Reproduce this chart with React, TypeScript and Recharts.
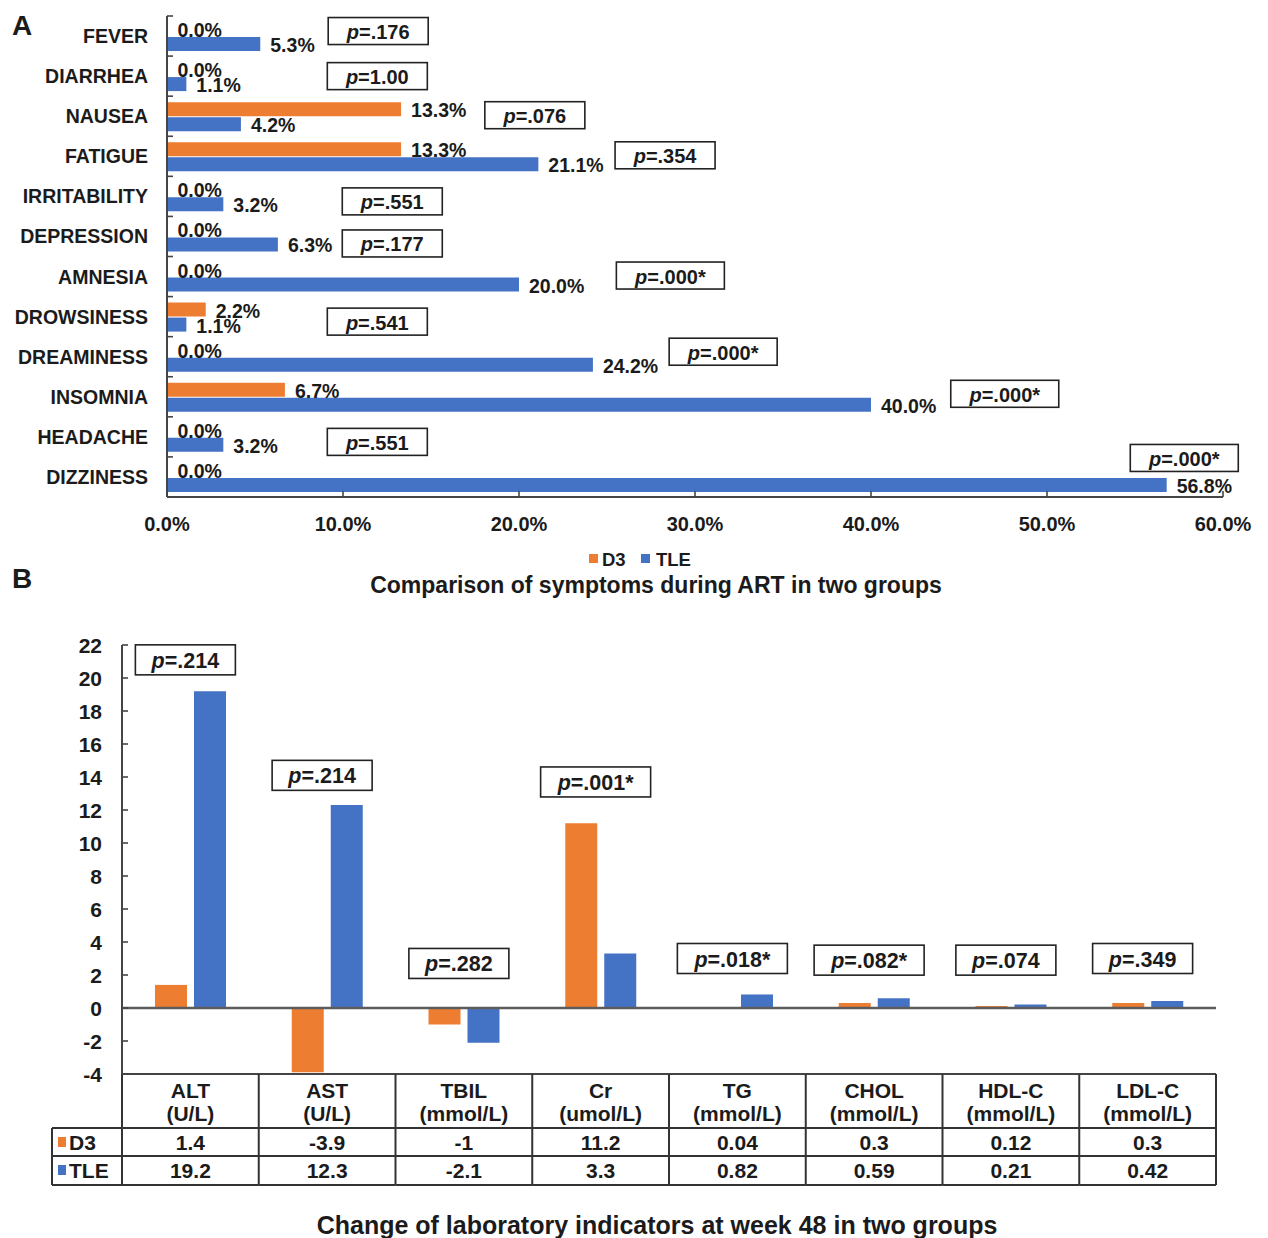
import React from 'react';
import { BarChart, Bar, XAxis, YAxis, LabelList, ReferenceDot, ReferenceLine } from 'recharts';

const FONT = 'Arial, "Liberation Sans", Helvetica, sans-serif';
const ORANGE = '#ED7D31';
const BLUE = '#4472C4';
const INK = '#1b1b1b';
const AXIS = '#454545';

// ---- Panel A: symptoms during ART (percent of patients) ----
const symptoms = ['FEVER', 'DIARRHEA', 'NAUSEA', 'FATIGUE', 'IRRITABILITY', 'DEPRESSION', 'AMNESIA', 'DROWSINESS', 'DREAMINESS', 'INSOMNIA', 'HEADACHE', 'DIZZINESS'];
const symptomD3 = [0.0, 0.0, 13.3, 13.3, 0.0, 0.0, 0.0, 2.2, 0.0, 6.7, 0.0, 0.0];
const symptomTLE = [5.3, 1.1, 4.2, 21.1, 3.2, 6.3, 20.0, 1.1, 24.2, 40.0, 3.2, 56.8];
const symptomP = ['.176', '1.00', '.076', '.354', '.551', '.177', '.000*', '.541', '.000*', '.000*', '.551', '.000*'];
const pctTicks = [0, 10, 20, 30, 40, 50, 60];

// ---- Panel B: change of laboratory indicators at week 48 ----
const labItems = ['ALT', 'AST', 'TBIL', 'Cr', 'TG', 'CHOL', 'HDL-C', 'LDL-C'];
const labUnits = ['(U/L)', '(U/L)', '(mmol/L)', '(umol/L)', '(mmol/L)', '(mmol/L)', '(mmol/L)', '(mmol/L)'];
const labD3 = [1.4, -3.9, -1, 11.2, 0.04, 0.3, 0.12, 0.3];
const labTLE = [19.2, 12.3, -2.1, 3.3, 0.82, 0.59, 0.21, 0.42];
const labP = ['.214', '.214', '.282', '.001*', '.018*', '.082*', '.074', '.349'];
const labTicks = [-4, -2, 0, 2, 4, 6, 8, 10, 12, 14, 16, 18, 20, 22];

// Where each p-value box sits (axis units) and its vertical nudge in px
const symptomPBoxAt = [12.0, 11.95, 20.9, 28.3, 12.8, 12.8, 28.6, 11.95, 31.6, 47.6, 11.95, 57.8];
const symptomPBoxNudge = [-5, 0, -1, -1, 5, 7, -1, 5, -5, -3, 5, -19];
const labPBoxAt = [21.1, 14.1, 2.7, 13.7, 3.0, 2.9, 2.9, 3.0];

const symptomRows = symptoms.map((name, i) => ({ name, d3: symptomD3[i], tle: symptomTLE[i] }));
const labRows = labItems.map((item, i) => ({ item, d3: labD3[i], tle: labTLE[i] }));

// layout of panel A
const A_W = 1268, A_H = 540;
const A_MARGIN = { top: 16, right: 45, bottom: 0, left: 0 };
const A_YW = 167, A_XH = 43;
const A_BAND = (A_H - A_MARGIN.top - A_XH) / symptoms.length;

// layout of panel B
const B_TOP = 600;
const B_W = 1268, B_H = 600;
const B_MARGIN = { top: 45, right: 52, bottom: 0, left: 0 };
const B_YW = 122, B_XH = 126;
const B_BAND = (B_W - B_MARGIN.right - B_YW) / labItems.length;

const txt = { fontFamily: FONT, fontWeight: 700, fill: INK } as const;

function PBox({ cx, cy, text, dx = 0, dy = 0, w, h = 27, fontSize = 20 }: any) {
  const x = cx + dx;
  const y = cy + dy;
  return (
    <g>
      <rect x={x - w / 2} y={y - h / 2} width={w} height={h} fill="#fff" stroke="#222" strokeWidth={1.6} />
      <text x={x} y={y + 1} textAnchor="middle" dominantBaseline="central" fontSize={fontSize} {...txt}>
        <tspan fontStyle="italic">p</tspan>={text}
      </text>
    </g>
  );
}

function PctTick({ x, y, payload }: any) {
  return (
    <g>
      <line x1={x} x2={x} y1={y - 6} y2={y} stroke={AXIS} strokeWidth={1.6} />
      <text x={x} y={y + 27} textAnchor="middle" dominantBaseline="central" fontSize={20} {...txt}>
        {Number(payload.value).toFixed(1)}%
      </text>
    </g>
  );
}

function SymptomTick({ x, y, payload }: any) {
  const ax = A_YW;
  return (
    <g>
      <line x1={ax} x2={ax + 6} y1={y - A_BAND / 2} y2={y - A_BAND / 2} stroke={AXIS} strokeWidth={1.6} />
      <text x={x} y={y} textAnchor="end" dominantBaseline="central" fontSize={19.5} {...txt}>
        {payload.value}
      </text>
    </g>
  );
}

function pctLabel(props: any) {
  const { x, y, width, height, value } = props;
  return (
    <text x={x + width + 10} y={y + height / 2 + 1} dominantBaseline="central" fontSize={19.5} {...txt}>
      {Number(value).toFixed(1)}%
    </text>
  );
}

function LabTick({ x, y, payload }: any) {
  const ax = B_YW;
  return (
    <g>
      <line x1={ax} x2={ax + 6} y1={y} y2={y} stroke={AXIS} strokeWidth={1.6} />
      <text x={x} y={y} textAnchor="end" dominantBaseline="central" fontSize={21} {...txt}>
        {payload.value}
      </text>
    </g>
  );
}

function TableTick({ x, y, payload, index }: any) {
  const half = B_BAND / 2;
  const L = x - half;
  const R = x + half;
  const t = y;
  const line = { stroke: '#333', strokeWidth: 2 };
  const keyW = 70;
  const fs = 21;
  return (
    <g>
      <line x1={L} x2={L} y1={t} y2={t + 111} {...line} />
      {index === labItems.length - 1 && <line x1={R} x2={R} y1={t} y2={t + 111} {...line} />}
      <line x1={L} x2={R} y1={t + 54} y2={t + 54} {...line} />
      <line x1={L} x2={R} y1={t + 82} y2={t + 82} {...line} />
      <line x1={L} x2={R} y1={t + 111} y2={t + 111} {...line} />
      <text x={x} y={t + 16} textAnchor="middle" dominantBaseline="central" fontSize={fs} {...txt}>{payload.value}</text>
      <text x={x} y={t + 39} textAnchor="middle" dominantBaseline="central" fontSize={fs} {...txt}>{labUnits[index]}</text>
      <text x={x} y={t + 68} textAnchor="middle" dominantBaseline="central" fontSize={fs} {...txt}>{String(labD3[index])}</text>
      <text x={x} y={t + 96} textAnchor="middle" dominantBaseline="central" fontSize={fs} {...txt}>{String(labTLE[index])}</text>
      {index === 0 && (
        <g>
          <line x1={L - keyW} x2={L - keyW} y1={t + 54} y2={t + 111} {...line} />
          <line x1={L - keyW} x2={L} y1={t + 54} y2={t + 54} {...line} />
          <line x1={L - keyW} x2={L} y1={t + 82} y2={t + 82} {...line} />
          <line x1={L - keyW} x2={L} y1={t + 111} y2={t + 111} {...line} />
          <rect x={L - keyW + 6} y={t + 63} width={8} height={10} fill={ORANGE} />
          <text x={L - keyW + 17} y={t + 68} dominantBaseline="central" fontSize={fs} {...txt}>D3</text>
          <rect x={L - keyW + 6} y={t + 91} width={8} height={10} fill={BLUE} />
          <text x={L - keyW + 17} y={t + 96} dominantBaseline="central" fontSize={fs} {...txt}>TLE</text>
        </g>
      )}
    </g>
  );
}

export default function App() {
  return (
    <div style={{ position: 'absolute', left: 0, top: 0, width: 1268, height: 1238, background: '#fff', overflow: 'hidden' }}>
      <div style={{ position: 'absolute', left: 0, top: 0 }}>
        <BarChart
          width={A_W}
          height={A_H}
          layout="vertical"
          data={symptomRows}
          margin={A_MARGIN}
          barCategoryGap={6}
          barGap={1}
        >
          <XAxis
            type="number"
            domain={[0, 60]}
            ticks={pctTicks}
            height={A_XH}
            tickSize={0}
            tickMargin={0}
            tick={<PctTick />}
            axisLine={{ stroke: AXIS, strokeWidth: 2 }}
            interval={0}
          />
          <YAxis
            type="category"
            dataKey="name"
            width={A_YW}
            tickSize={0}
            tickMargin={19}
            tick={<SymptomTick />}
            axisLine={{ stroke: AXIS, strokeWidth: 2 }}
            interval={0}
          />
          <Bar dataKey="d3" fill={ORANGE} minPointSize={0.5} isAnimationActive={false}>
            <LabelList dataKey="d3" content={pctLabel} />
          </Bar>
          <Bar dataKey="tle" fill={BLUE} minPointSize={0.5} isAnimationActive={false}>
            <LabelList dataKey="tle" content={pctLabel} />
          </Bar>
          {symptoms.map((name, i) => (
            <ReferenceDot
              key={name}
              x={symptomPBoxAt[i]}
              y={name}
              r={1}
              ifOverflow="visible"
              shape={(p: any) => (
                <PBox cx={p.cx} cy={p.cy} dy={symptomPBoxNudge[i]} text={symptomP[i]} w={symptomP[i].length > 4 ? 108 : 100} />
              )}
            />
          ))}
        </BarChart>
      </div>

      <div style={{ position: 'absolute', left: 0, top: B_TOP }}>
        <BarChart
          width={B_W}
          height={B_H}
          data={labRows}
          margin={B_MARGIN}
          barCategoryGap={33}
          barGap={7}
        >
          <XAxis
            dataKey="item"
            height={B_XH}
            tickSize={0}
            tickMargin={0}
            tick={<TableTick />}
            axisLine={{ stroke: AXIS, strokeWidth: 2 }}
            interval={0}
          />
          <YAxis
            domain={[-4, 22]}
            ticks={labTicks}
            width={B_YW}
            tickSize={0}
            tickMargin={20}
            tick={<LabTick />}
            axisLine={{ stroke: AXIS, strokeWidth: 2 }}
            interval={0}
          />
          <ReferenceLine y={0} stroke="#5c5c5c" strokeWidth={2.5} />
          <Bar dataKey="d3" fill={ORANGE} isAnimationActive={false} />
          <Bar dataKey="tle" fill={BLUE} isAnimationActive={false} />
          {labItems.map((item, i) => (
            <ReferenceDot
              key={item}
              x={item}
              y={labPBoxAt[i]}
              r={1}
              ifOverflow="visible"
              shape={(p: any) => (
                <PBox cx={p.cx} cy={p.cy} dx={-5} text={labP[i]} w={labP[i].length > 4 ? 110 : 100} h={30} fontSize={21.5} />
              )}
            />
          ))}
        </BarChart>
      </div>

      <svg width={1268} height={1238} style={{ position: 'absolute', left: 0, top: 0, pointerEvents: 'none' }}>
        <text x={12} y={25} dominantBaseline="central" fontSize={28} {...txt}>A</text>
        <text x={12} y={578} dominantBaseline="central" fontSize={28} {...txt}>B</text>
        <rect x={589} y={554} width={9} height={9} fill={ORANGE} />
        <text x={602} y={559} dominantBaseline="central" fontSize={18.5} {...txt}>D3</text>
        <rect x={641} y={554} width={9} height={9} fill={BLUE} />
        <text x={656} y={559} dominantBaseline="central" fontSize={18.5} {...txt}>TLE</text>
        <text x={656} y={585} textAnchor="middle" dominantBaseline="central" fontSize={23} {...txt}>
          Comparison of symptoms during ART in two groups
        </text>
        <text x={657} y={1225} textAnchor="middle" dominantBaseline="central" fontSize={25} {...txt}>
          Change of laboratory indicators at week 48 in two groups
        </text>
      </svg>
    </div>
  );
}
